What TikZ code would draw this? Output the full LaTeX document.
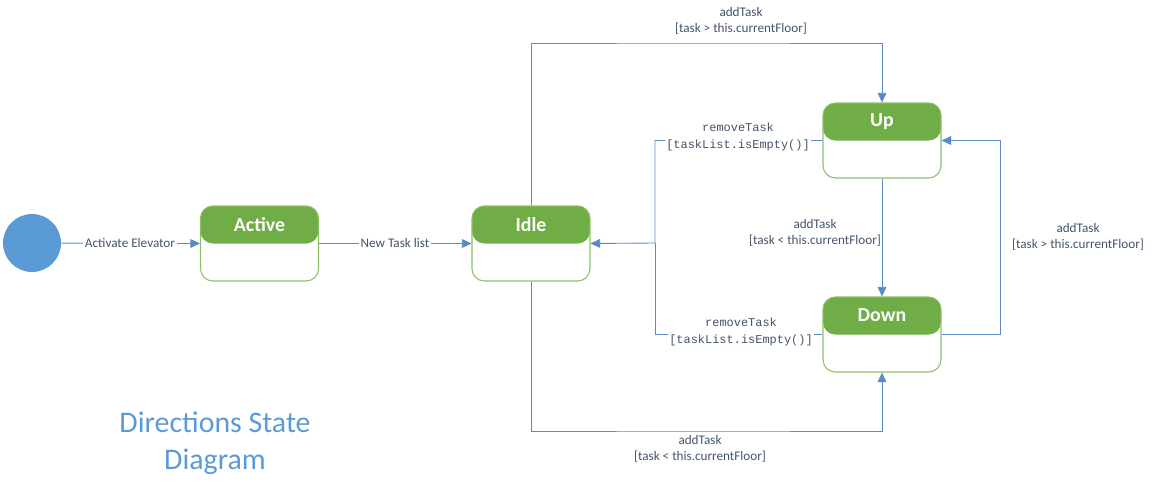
\documentclass[tikz,border=0pt]{standalone}
\usepackage{fontspec}
\setmainfont{Carlito}
\newfontfamily\codefont{Liberation Mono}
\usetikzlibrary{calc}
\usetikzlibrary{arrows.meta}
\definecolor[named]{UMLGreen}{HTML}{70AD47}
\definecolor[named]{UMLBorder}{HTML}{8CBF65}
\definecolor[named]{UMLBlue}{HTML}{5B9BD5}
\definecolor[named]{UMLLine}{HTML}{5A8AC6}
\definecolor[named]{UMLText}{HTML}{44546A}
\newcommand{\lbl}{\fontsize{7.5}{9.4}\selectfont\color{UMLText}}
\newcommand{\cde}{\fontsize{6.8}{9.4}\selectfont\codefont\color{UMLText}}
\tikzset{
  state/.style={
    draw=UMLBorder,line width=0.6pt,rounded corners=7pt,
    minimum width=2.36cm,minimum height=1.5cm,inner sep=0pt,
    path picture={
      \fill[UMLGreen] (path picture bounding box.north west)
        rectangle (path picture bounding box.east);
    }
  },
  flow/.style={draw=UMLLine,line width=0.5pt,-{Triangle[length=5.5pt,width=5pt]}},
  wire/.style={draw=UMLLine,line width=0.5pt},
  guard/.style={fill=white,inner sep=1pt,align=center},
}
\newcommand{\statename}[2]{%
  \node[white,font=\fontsize{11.3}{13}\selectfont\bfseries]
    (#1-name) at ($(#1.north)!0.25!(#1.south)$) {#2};
}

\begin{document}
\begin{tikzpicture}[x=0.02cm,y=-0.02cm]
  \path[use as bounding box] (0,0) rectangle (1155,494);

  % States {{{
  \node[circle,fill=UMLBlue,minimum size=1.16cm,inner sep=0pt] (start) at (32,243) {};
  \node[state] (active) at (259.5,243.5) {};
  \node[state] (idle) at (531,243.5) {};
  \node[state] (up) at (882,140.5) {};
  \node[state] (down) at (882,334.5) {};
  \statename{active}{Active}
  \statename{idle}{Idle}
  \statename{up}{Up}
  \statename{down}{Down}
  % }}}

  % Transitions {{{
  \coordinate (topline) at (700,43);
  \coordinate (botline) at (700,431);
  \coordinate (ret) at (655,243);
  \coordinate (rloop) at (1000,240);

  \draw[flow] (start) -- (active.west);
  \draw[flow] (active.east) -- (idle.west);
  \draw[flow] (idle.north) |- (topline) -| (up.north);
  \draw[flow] (idle.south) |- (botline) -| (down.south);
  \draw[flow] (up.west) -| (ret) -- (idle.east);
  \draw[wire] (down.west) -| (ret);
  \draw[flow] (up.south) -- (down.north);
  \draw[flow] (down.east) -| (rloop) |- (up.east);

  \node[guard,font=\lbl] (l-start) at (130,243) {Activate Elevator};
  \node[guard,font=\lbl] (l-active) at (395,243) {New Task list};
  \node[align=center,font=\lbl] (l-top) at (741,21) {addTask\\{}[task > this.currentFloor]};
  \node[align=center,font=\lbl] (l-bot) at (700,449) {addTask\\{}[task < this.currentFloor]};
  \node[align=center,font=\lbl] (l-mid) at (815,233) {addTask\\{}[task < this.currentFloor]};
  \node[align=center,font=\lbl] (l-right) at (1078,237) {addTask\\{}[task > this.currentFloor]};
  \node[guard,font=\cde] (l-up) at (738,137) {removeTask\\{}[taskList.isEmpty()]};
  \node[guard,font=\cde] (l-down) at (741,332) {removeTask\\{}[taskList.isEmpty()]};
  % }}}

  \node[UMLBlue,align=center,font=\fontsize{17}{21}\selectfont] (title) at (215,443)
    {Directions State\\Diagram};
\end{tikzpicture}
\end{document}
